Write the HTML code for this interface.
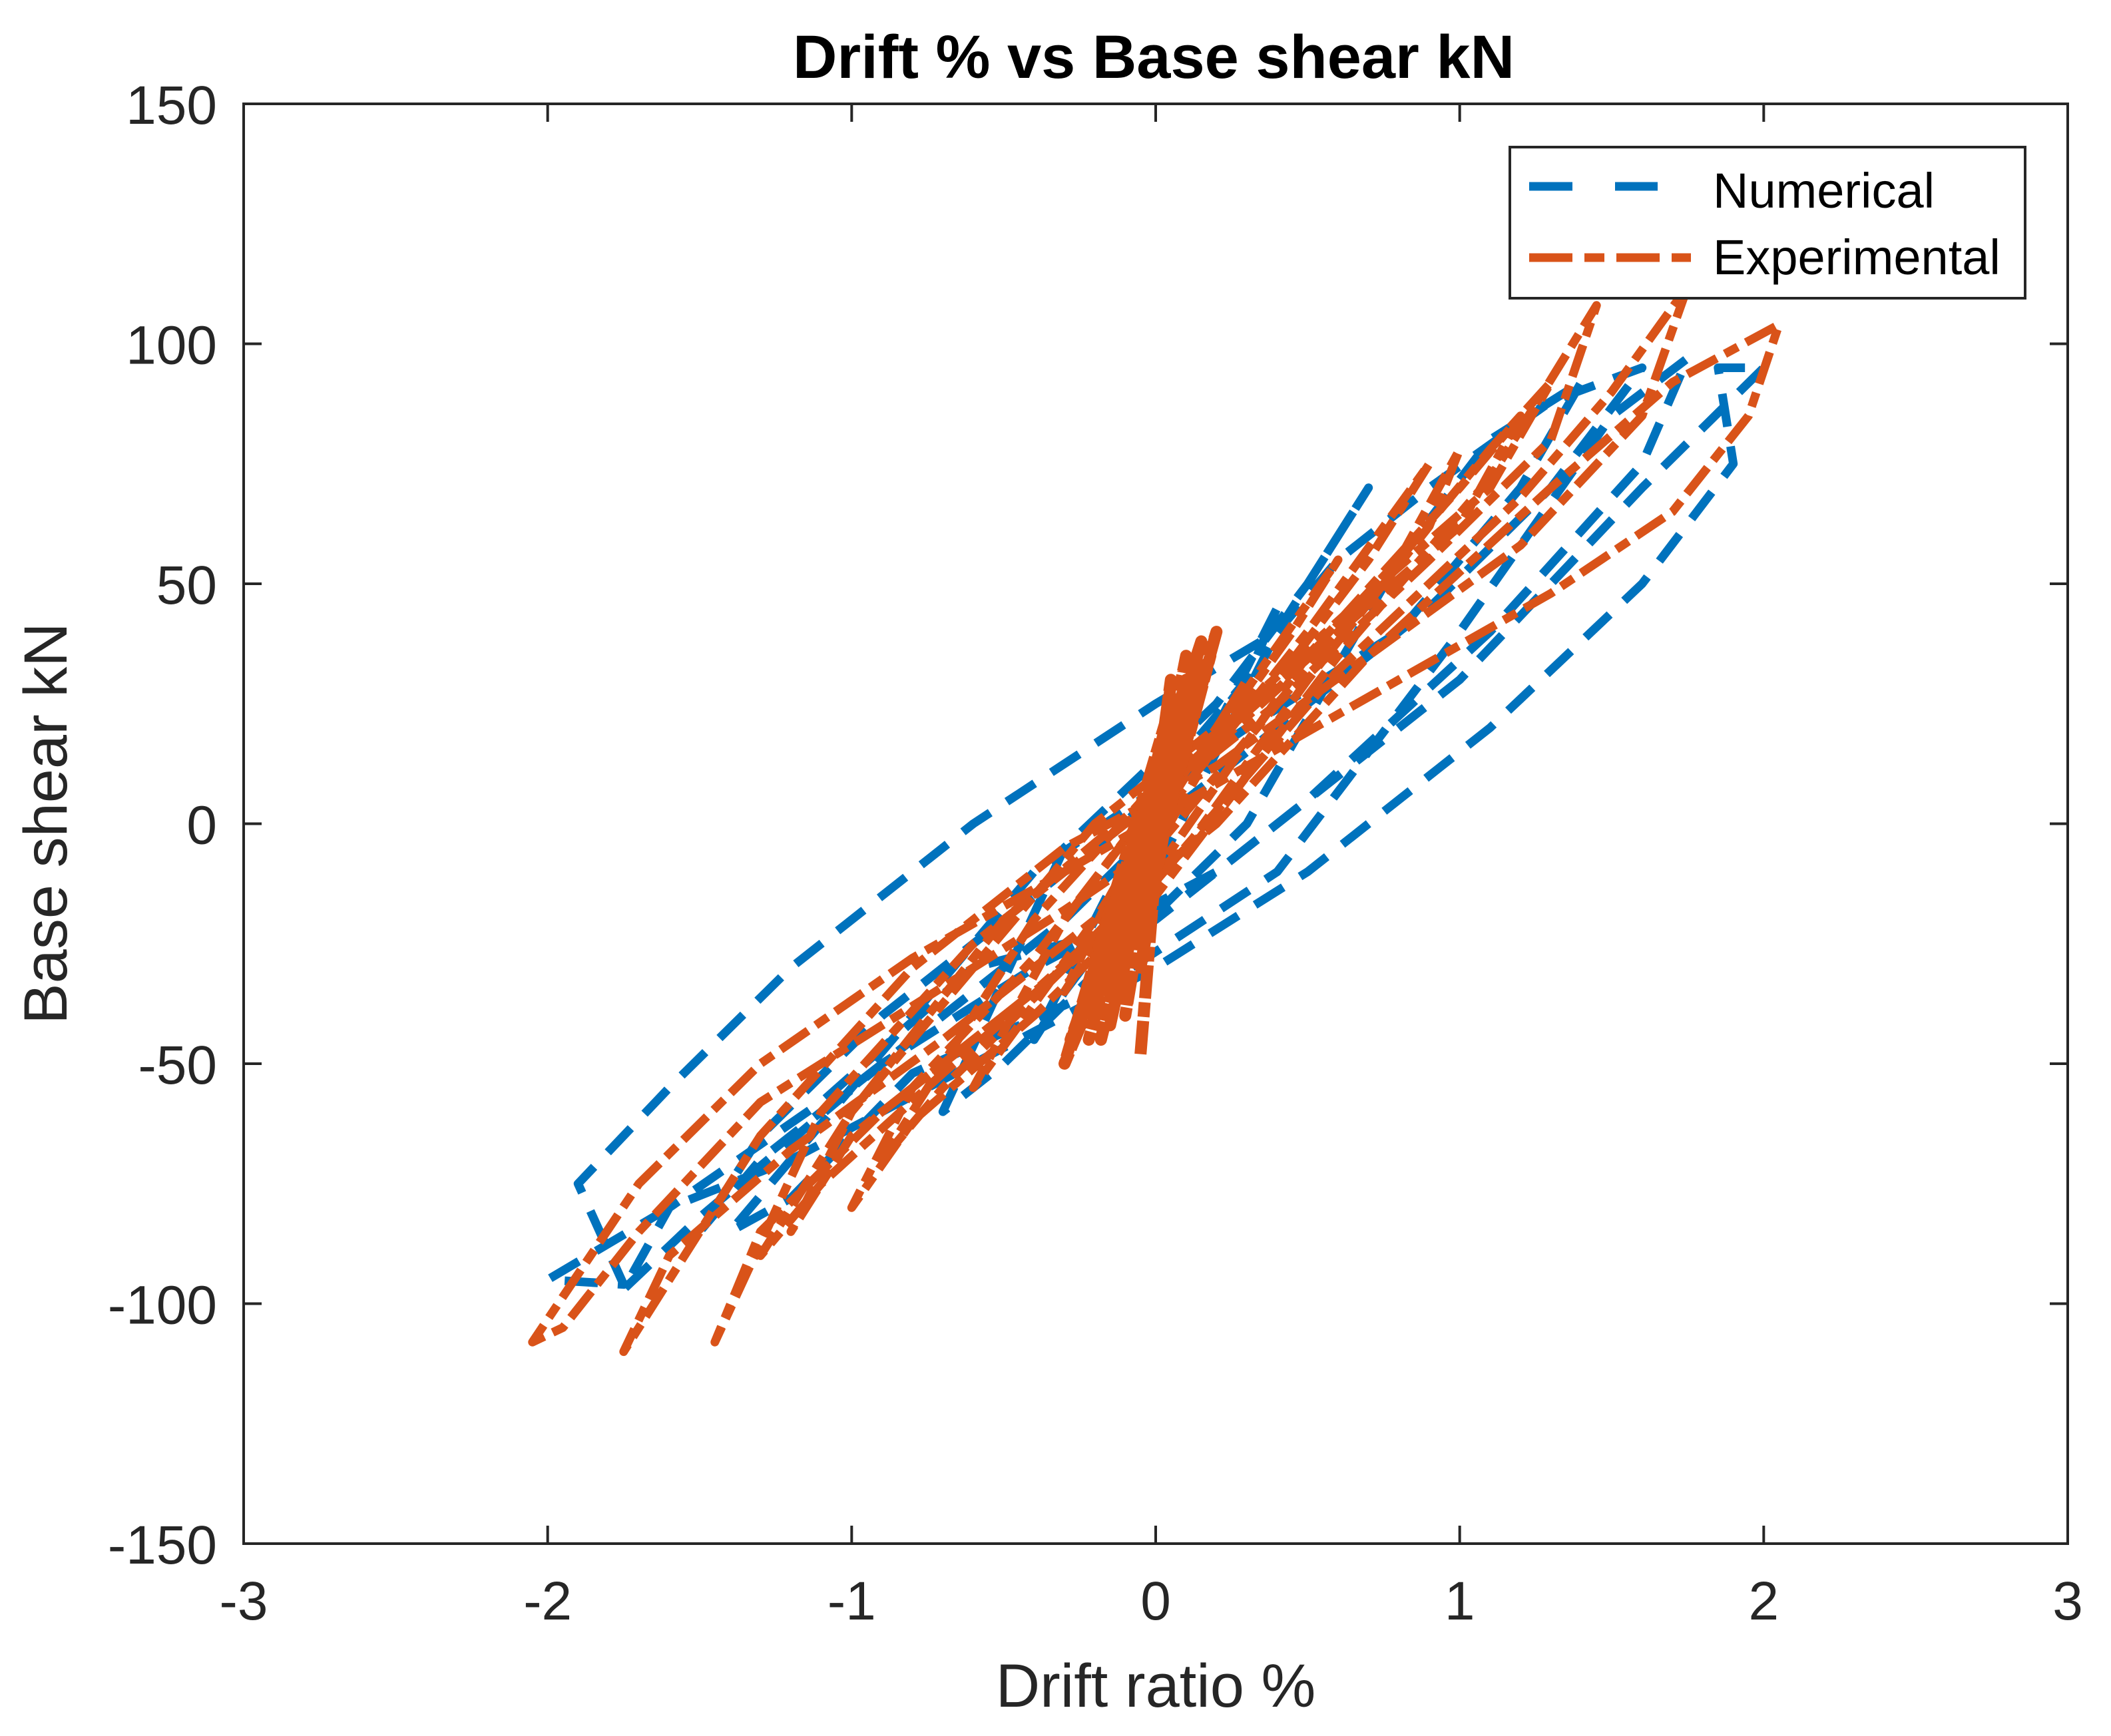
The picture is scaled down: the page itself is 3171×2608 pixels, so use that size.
<!DOCTYPE html>
<html><head><meta charset="utf-8"><style>
html,body{margin:0;padding:0;background:#fff;}
svg{display:block;font-family:"Liberation Sans",Arial,sans-serif;}
</style></head><body>
<svg id="chart" width="3171" height="2608" viewBox="0 0 3171 2608">
<rect width="3171" height="2608" fill="#fff"/>
<defs><clipPath id="plotclip"><rect x="366" y="156" width="2740" height="2163"/></clipPath></defs>
<text x="1733" y="117" text-anchor="middle" font-size="92" font-weight="bold" fill="#000">Drift % vs Base shear kN</text>
<g id="ticks"></g>
<g id="series" clip-path="url(#plotclip)"></g>
<rect x="366" y="156" width="2740" height="2163" fill="none" stroke="#262626" stroke-width="4"/>
<text x="1736" y="2564" text-anchor="middle" font-size="92" fill="#262626">Drift ratio %</text>
<text transform="translate(100,1237) rotate(-90)" text-anchor="middle" font-size="92" fill="#262626">Base shear kN</text>
<g>
<rect x="2268" y="221" width="774" height="227" fill="#fff" stroke="#262626" stroke-width="4"/>
<line x1="2297" y1="280" x2="2490" y2="280" stroke="#0072BD" stroke-width="13" stroke-dasharray="65,64"/>
<text x="2573" y="312" font-size="74" fill="#000">Numerical</text>
<line x1="2297" y1="387" x2="2540" y2="387" stroke="#D95319" stroke-width="13" stroke-dasharray="65,18,30,18"/>
<text x="2573" y="412" font-size="74" fill="#000">Experimental</text>
</g>
</svg>
<script>
const xTicks = [-3,-2,-1,0,1,2,3];
const yTicks = [-150,-100,-50,0,50,100,150];
const xTickLabels = ['-3','-2','-1','0','1','2','3'];
const yTickLabels = ['-150','-100','-50','0','50','100','150'];
const numDrift = [0,0.2,0.4,0.3,0,-0.2,-0.4,-0.3,0,0.4,0.7,0.5,0.2,-0.3,-0.7,-0.5,-0.1,0.3,0.8,1.1,1.4,1.2,0.8,0.3,-0.4,-1.0,-1.4,-1.2,-0.8,-0.2,0.4,1.0,1.5,1.75,1.6,1.1,0.5,0,-0.6,-1.1,-1.6,-1.75,-1.5,-0.9,-0.4,0.2,1.0,1.6,2.0,1.85,1.9,1.6,1.1,0.5,0,-0.6,-1.2,-1.6,-2.0,-1.75,-1.9,-1.6,-1.2,-0.6,0,0.4,0.6,0.9,1.3,1.6,1.3,0.9,0.5,0.1,-0.3,-0.8,-1.3,-1.5,-1.3,-0.9,-0.5,-0.1,0.3];
const numShear = [0,20,45,30,5,-20,-45,-35,-10,40,70,50,25,-5,-60,-50,-25,0,55,80,92,70,40,20,-10,-55,-85,-78,-52,-35,-10,40,85,97,75,40,5,-20,-30,-58,-80,-97,-82,-50,-30,-10,30,70,95,95,75,50,20,-10,-30,-50,-70,-80,-95,-96,-75,-55,-30,0,25,40,55,70,88,95,70,45,25,5,-20,-45,-70,-85,-65,-40,-20,0,30];
const expDrift = [0,0.15,0.3,0.2,0,-0.15,-0.3,-0.2,0,0.3,0.6,0.45,0.2,0,-0.3,-0.6,-0.45,-0.2,0,0.5,0.9,0.7,0.4,0,-0.4,-0.9,-0.7,-0.3,0,0.5,1.0,1.2,1.0,0.6,0.1,-0.5,-1.0,-1.2,-1.0,-0.5,0,0.6,1.1,1.45,1.3,0.9,0.4,0,-0.6,-1.1,-1.45,-1.3,-0.9,-0.4,0,0.6,1.2,1.5,1.75,1.6,1.2,0.7,0.2,-0.3,-0.8,-1.3,-1.75,-1.6,-1.2,-0.7,-0.2,0.2,0.7,1.3,1.7,2.05,1.95,1.7,1.3,0.8,0.3,-0.3,-0.8,-1.3,-1.7,-2.05,-1.95,-1.7,-1.3,-0.8,-0.3,0,0.4,0.8,1.1,1.3,1.1,0.7,0.3,-0.2,-0.6,-1.0,-1.3,-1.1,-0.7,-0.3,0.1,0.5,0.9,1.0,0.8,0.4,0,-0.4,-0.8,-1.0,-0.8,-0.4,0];
const expShear = [0,15,30,20,2,-15,-35,-25,-5,28,55,40,18,5,-20,-55,-42,-20,0,40,75,55,30,8,-20,-70,-55,-30,-10,35,70,85,62,40,12,-20,-60,-85,-65,-40,-15,35,72,108,80,55,25,5,-25,-60,-108,-85,-60,-35,-12,32,68,90,112,85,58,35,12,-5,-30,-65,-110,-90,-68,-45,-20,0,35,70,92,104,85,65,48,30,12,-10,-28,-50,-75,-108,-105,-85,-58,-38,-18,-5,25,55,78,92,70,48,25,0,-30,-60,-90,-75,-52,-30,-5,30,62,78,55,28,5,-28,-55,-80,-62,-40,-15];
const coreDrift = [-0.05,0.05,-0.1,0.1,-0.12,0.08,-0.15,0.05,-0.2,0.1,-0.05,0.12,-0.18,0.02,-0.25,0.15,-0.1,0.2,-0.08,0.0,-0.3,0.05,-0.22,0.1,-0.15,0.18,-0.05,0.08,-0.28,0.0];
const coreShear = [-48,30,-40,35,-35,25,-42,20,-38,28,-30,32,-45,15,-40,38,-20,40,-25,-5,-50,25,-45,30,-35,35,-20,20,-45,-10];

const X0=366, X1=3106, Y0=156, Y1=2319;
const xs = v => X0 + (v+3)/6*(X1-X0);
const ys = v => Y1 - (v+150)/300*(Y1-Y0);
const NS='http://www.w3.org/2000/svg';
const tg=document.getElementById('ticks');
xTicks.forEach((t,i)=>{
  const x=xs(t);
  const l1=document.createElementNS(NS,'line');
  l1.setAttribute('x1',x);l1.setAttribute('x2',x);l1.setAttribute('y1',Y1);l1.setAttribute('y2',Y1-27);
  l1.setAttribute('stroke','#262626');l1.setAttribute('stroke-width','4');
  
  
  tg.appendChild(l1);
  const l2=document.createElementNS(NS,'line');
  l2.setAttribute('x1',x);l2.setAttribute('x2',x);l2.setAttribute('y1',Y0);l2.setAttribute('y2',Y0+27);
  l2.setAttribute('stroke','#262626');l2.setAttribute('stroke-width','4');
  
  
  tg.appendChild(l2);
  const tx=document.createElementNS(NS,'text');
  tx.setAttribute('x',x);tx.setAttribute('y',2433);tx.setAttribute('text-anchor','middle');
  tx.setAttribute('font-size','82');tx.setAttribute('fill','#262626');
  tx.textContent=xTickLabels[i];
  
  
  tg.appendChild(tx);
});
yTicks.forEach((t,i)=>{
  const y=ys(t);
  const l1=document.createElementNS(NS,'line');
  l1.setAttribute('x1',X0);l1.setAttribute('x2',X0+27);l1.setAttribute('y1',y);l1.setAttribute('y2',y);
  l1.setAttribute('stroke','#262626');l1.setAttribute('stroke-width','4');
  
  
  tg.appendChild(l1);
  const l2=document.createElementNS(NS,'line');
  l2.setAttribute('x1',X1);l2.setAttribute('x2',X1-27);l2.setAttribute('y1',y);l2.setAttribute('y2',y);
  l2.setAttribute('stroke','#262626');l2.setAttribute('stroke-width','4');
  
  
  tg.appendChild(l2);
  const tx=document.createElementNS(NS,'text');
  tx.setAttribute('x',326);tx.setAttribute('y',y+30);tx.setAttribute('text-anchor','end');
  tx.setAttribute('font-size','82');tx.setAttribute('fill','#262626');
  tx.textContent=yTickLabels[i];
  
  
  tg.appendChild(tx);
});
const sg=document.getElementById('series');
function addLine(dx,dy,color,dash,width,name){
  const p=document.createElementNS(NS,'path');
  let d='';
  dx.forEach((v,i)=>{ d+=(i?'L':'M')+xs(v).toFixed(1)+','+ys(dy[i]).toFixed(1); });
  p.setAttribute('d',d);
  p.setAttribute('fill','none');p.setAttribute('stroke',color);p.setAttribute('stroke-width',width);
  p.setAttribute('stroke-dasharray',dash);p.setAttribute('stroke-linejoin','round');
  
  
  sg.appendChild(p);
}
addLine(numDrift,numShear,'#0072BD','50,30','13','numerical-series');
addLine(expDrift,expShear,'#D95319','50,14,22,14','13','experimental-series');
addLine(coreDrift,coreShear,'#D95319','50,6,22,6','18','experimental-core');
</script>
</body></html>
